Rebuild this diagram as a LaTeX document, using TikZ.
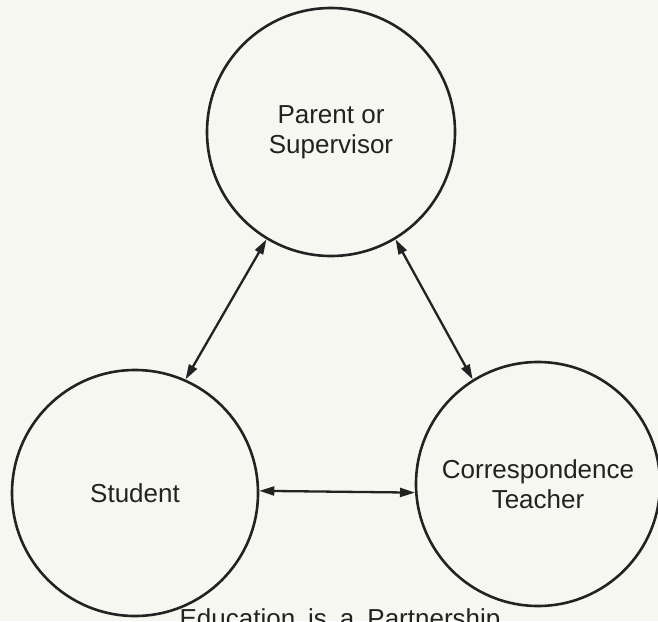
\documentclass[tikz,border=0pt]{standalone}
\usepackage{fontspec}
\setmainfont{Liberation Sans}
\usetikzlibrary{arrows.meta}
\definecolor{paper}{RGB}{247,247,242}
\definecolor{ink}{RGB}{34,34,34}
\begin{document}
\begin{tikzpicture}[line cap=round,line join=round,>={Triangle[length=15pt,width=9pt]},x=1pt,y=-1pt,
	party/.style={circle,draw=ink,line width=2.6pt,inner sep=0pt,minimum size=#1,align=center,text=ink,font=\fontsize{26}{30}\selectfont},
	link/.style={<->,draw=ink,line width=2.3pt}]
	\useasboundingbox (0,0) rectangle (658,621);
	\fill [paper] (0,0) rectangle (658,621);
	\clip (0,0) rectangle (658,621);
	\node [party=248pt] (parent) at (331,132) {Parent or\\Supervisor};
	\node [party=246pt] (student) at (135,493) {Student};
	\node [party=244pt] (teacher) at (538,484) {Correspondence\\Teacher};
	\draw [link] (parent.239) -- (student.66);
	\draw [link] (parent.301) -- (teacher.122);
	\draw [link] (student.1) -- (teacher.184);
	\node [anchor=base,text=ink,font=\fontsize{26}{30}\selectfont] (motto) at (340,627) {Education\enspace is\enspace a\enspace Partnership};
\end{tikzpicture}
\end{document}
